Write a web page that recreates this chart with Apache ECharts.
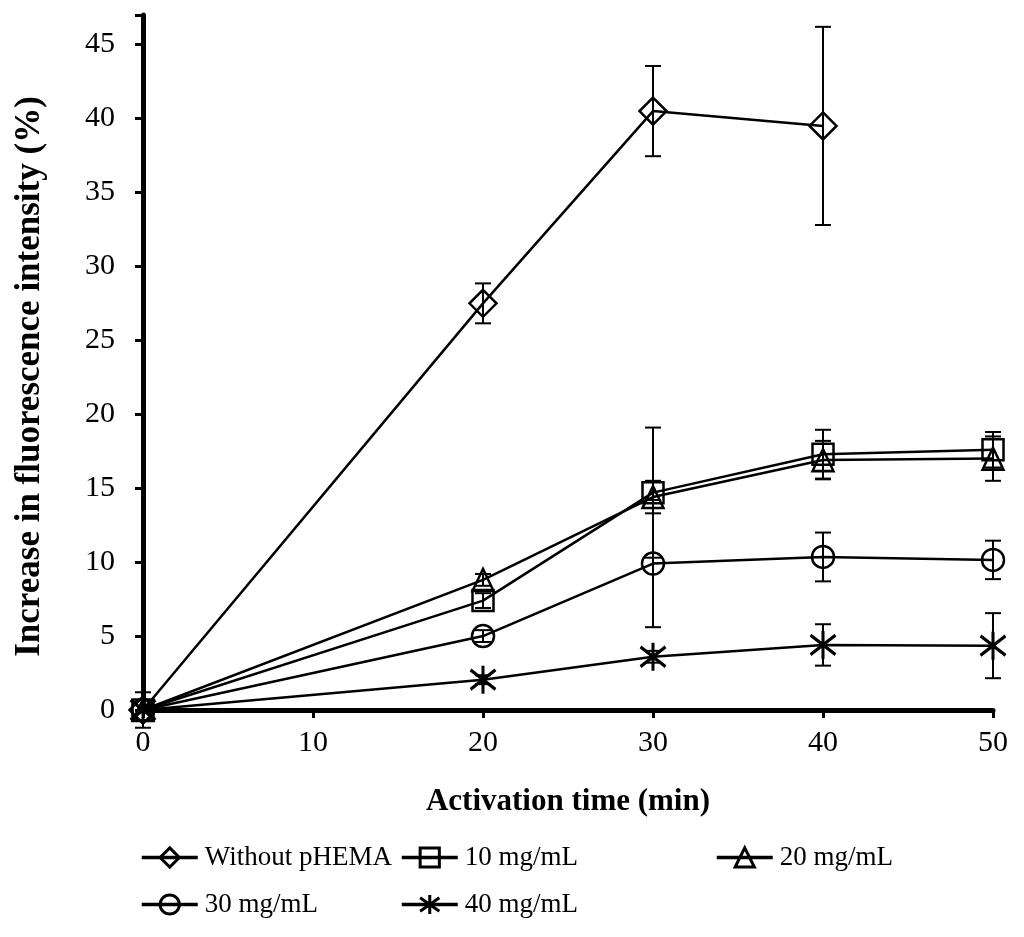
<!DOCTYPE html>
<html>
<head>
<meta charset="utf-8">
<script src="https://cdn.jsdelivr.net/npm/echarts@6/dist/echarts.min.js"></script>
<style>
  html, body { margin: 0; padding: 0; background: #fff; }
  #chart { width: 1024px; height: 937px; }
</style>
</head>
<body>
<div id="chart"></div>
<script>
const fontSerif = "'Liberation Serif', 'Times New Roman', serif"

// activation time (min)
const timeMin = [0, 20, 30, 40, 50]
const xTicks = [0, 10, 20, 30, 40, 50]
const yTicks = [0, 5, 10, 15, 20, 25, 30, 35, 40, 45]

// increase in fluorescence intensity (%) and error (+/-)
const withoutPHEMA = [0, 27.5, 40.5, 39.5]
const withoutPHEMAErr = [1.2, 1.35, 3.05, 6.7]
const mg10 = [0, 7.4, 14.7, 17.3, 17.6]
const mg10Err = [0, 0.5, 4.4, 1.65, 1.2]
const mg20 = [0, 8.8, 14.4, 16.9, 17.0]
const mg20Err = [0, 0.4, 1.1, 1.3, 1.5]
const mg30 = [0, 5.0, 9.9, 10.35, 10.15]
const mg30Err = [0, 0.4, 4.3, 1.65, 1.3]
const mg40 = [0, 2.05, 3.6, 4.4, 4.35]
const mg40Err = [0, 0.3, 0.4, 1.4, 2.2]

const seriesNames = ['Without pHEMA', '10 mg/mL', '20 mg/mL', '30 mg/mL', '40 mg/mL']

const asterisk = 'path://M10,0 L10,20 M2,3 L18,17 M2,17 L18,3'

const defs = [
  { name: seriesNames[0], vals: withoutPHEMA, errs: withoutPHEMAErr, symbol: 'diamond', size: [27, 27], bw: 2.5 },
  { name: seriesNames[1], vals: mg10, errs: mg10Err, symbol: 'rect', size: [21, 21], bw: 2.5 },
  { name: seriesNames[2], vals: mg20, errs: mg20Err, symbol: 'triangle', size: [21, 22], bw: 2.5 },
  { name: seriesNames[3], vals: mg30, errs: mg30Err, symbol: 'circle', size: [22, 22], bw: 2.5 },
  { name: seriesNames[4], vals: mg40, errs: mg40Err, symbol: asterisk, size: [25, 28], bw: 3.2 },
]

const chart = echarts.init(document.getElementById('chart'))

const series = []
defs.forEach(d => {
  // error bars
  series.push({
    type: 'custom',
    silent: true,
    z: 1,
    data: d.vals.map((v, i) => [timeMin[i], v - d.errs[i], v + d.errs[i]]),
    encode: { x: 0, y: [1, 2] },
    renderItem: (params, api) => {
      const lo = api.coord([api.value(0), api.value(1)])
      const hi = api.coord([api.value(0), api.value(2)])
      const w = 8
      const style = { stroke: '#000', lineWidth: 2 }
      return {
        type: 'group',
        children: [
          { type: 'line', shape: { x1: lo[0], y1: lo[1], x2: hi[0], y2: hi[1] }, style },
          { type: 'line', shape: { x1: lo[0] - w, y1: lo[1], x2: lo[0] + w, y2: lo[1] }, style },
          { type: 'line', shape: { x1: hi[0] - w, y1: hi[1], x2: hi[0] + w, y2: hi[1] }, style },
        ],
      }
    },
  })
  series.push({
    name: d.name,
    type: 'line',
    z: 3,
    data: d.vals.map((v, i) => [timeMin[i], v]),
    symbol: d.symbol,
    symbolSize: d.size,
    showAllSymbol: true,
    lineStyle: { color: '#000', width: 2.5 },
    itemStyle: { color: 'rgba(255,255,255,0)', borderColor: '#000', borderWidth: d.bw },
    emphasis: { disabled: true },
    animation: false,
  })
})

const legendPos = [
  { left: 135, top: 839 },
  { left: 395, top: 839 },
  { left: 710, top: 839 },
  { left: 135, top: 886 },
  { left: 395, top: 886 },
]

chart.setOption({
  animation: false,
  grid: { left: 143, right: 31, top: 15, bottom: 227 },
  legend: seriesNames.map((n, i) => ({
    data: [n],
    left: legendPos[i].left,
    top: legendPos[i].top,
    itemWidth: 56,
    itemHeight: 24,
    itemGap: 0,
    selectedMode: false,
    lineStyle: { width: 3.5 },
    itemStyle: { borderWidth: 3 },
    textStyle: { fontFamily: fontSerif, fontSize: 27, color: '#000', padding: [0, 0, 0, 2] },
  })),
  xAxis: {
    type: 'value',
    min: 0,
    max: 50,
    interval: 10,
    name: 'Activation time (min)',
    nameLocation: 'middle',
    nameGap: 76,
    nameTextStyle: { fontFamily: fontSerif, fontSize: 31, fontWeight: 'bold', color: '#000' },
    axisLine: { lineStyle: { color: '#000', width: 5 } },
    axisTick: { length: 8, lineStyle: { color: '#000', width: 3 } },
    axisLabel: {
      fontFamily: fontSerif, fontSize: 30, color: '#000', margin: 18,
      formatter: v => (xTicks.includes(v) ? String(v) : ''),
    },
    splitLine: { show: false },
  },
  yAxis: {
    type: 'value',
    min: 0,
    max: 47,
    interval: 5,
    name: 'Increase in fluorescence intensity (%)',
    nameLocation: 'middle',
    nameGap: 96,
    nameTextStyle: {
      fontFamily: fontSerif, fontSize: 35, fontWeight: 'bold', color: '#000',
      padding: [0, 28, 0, 0],
    },
    axisLine: { lineStyle: { color: '#000', width: 5 } },
    axisTick: { length: 8, lineStyle: { color: '#000', width: 3 } },
    axisLabel: {
      fontFamily: fontSerif, fontSize: 30, color: '#000', margin: 28,
      formatter: v => (yTicks.includes(v) ? String(v) : ''),
    },
    splitLine: { show: false },
  },
  series,
})
</script>
</body>
</html>
